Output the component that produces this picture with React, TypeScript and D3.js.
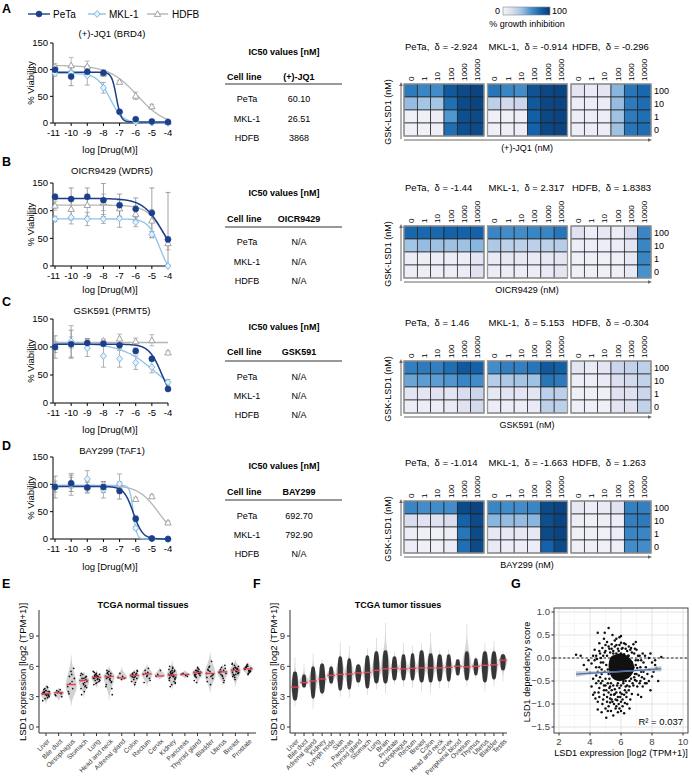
import React from "react";
import * as d3 from "d3";

const FONT = "'Liberation Sans', Arial, Helvetica, sans-serif";

// ---------------- Dose-response data ----------------
const doses = [-11, -10, -9, -8, -7, -6, -5, -4];
const cellLines = ["PeTa", "MKL-1", "HDFB"];
const drugTitles = ["(+)-JQ1 (BRD4)", "OICR9429 (WDR5)", "GSK591 (PRMT5)", "BAY299 (TAF1)"];
const drugNames = ["(+)-JQ1", "OICR9429", "GSK591", "BAY299"];
const panelLetters = ["A", "B", "C", "D"];
const yTicksViab = [0, 50, 100, 150];

const viabPeta = [
  [100, 87, 96, 94, 21, 7, 3, 2],
  [125, 121, 125, 119, 110, 103, 96, 48],
  [100, 105, 107, 106, 103, 93, 79, 25],
  [95, 102, 94, 95, 88, 37, 1, 0],
];
const errPeta = [
  [5, 17, 8, 5, 3, 3, 2, 2],
  [5, 20, 16, 30, 20, 20, 45, 85],
  [20, 25, 8, 5, 5, 5, 3, 3],
  [20, 15, 10, 10, 15, 5, 2, 1],
];
const viabMkl = [
  [93, 94, 89, 66, 20, 2, 1, 0],
  [85, 88, 85, 85, 86, 79, 57, 0],
  [100, 110, 98, 84, 79, 72, 64, 37],
  [96, 100, 110, 90, 101, 20, 1, 0],
];
const errMkl = [
  [5, 5, 18, 10, 3, 2, 1, 1],
  [5, 12, 12, 8, 16, 8, 5, 2],
  [10, 28, 15, 20, 15, 12, 10, 5],
  [10, 20, 15, 15, 18, 3, 2, 1],
];
const viabHdfb = [
  [106, 108, 106, 93, 77, 51, 31, 2],
  [109, 103, 110, 115, 104, 94, 82, 41],
  [100, 108, 110, 111, 115, 110, 112, 90],
  [97, 103, 96, 100, 100, 73, 78, 30],
];
const errHdfb = [
  [5, 15, 10, 6, 3, 7, 4, 2],
  [8, 20, 20, 15, 15, 15, 20, 12],
  [5, 10, 5, 3, 8, 6, 10, 3],
  [5, 10, 10, 5, 5, 3, 3, 3],
];
// 4PL fit parameters [top, bottom, logIC50, hill]
const fitPeta = [[95, 2, -7.2, 3], [122, 0, -4.3, 0.7], [105, 0, -4.4, 1.1], [96, 0, -6.15, 1.5]];
const fitMkl = [[93, 0, -7.6, 1.1], [85, -20, -4.5, 1.2], [107, 0, -4.7, 0.4], [98, 0, -6.15, 4]];
const fitHdfb = [[108, -5, -5.9, 0.5], [110, 0, -4.2, 0.8], [108, 108, -4, 1], [98, 0, -4.6, 0.7]];

// IC50 tables
const ic50Peta = ["60.10", "N/A", "N/A", "692.70"];
const ic50Mkl = ["26.51", "N/A", "N/A", "792.90"];
const ic50Hdfb = ["3868", "N/A", "N/A", "N/A"];

// ---------------- Synergy heatmaps ----------------
const drugConc = ["0", "1", "10", "100", "1000", "10000"];
const lsdConc = ["100", "10", "1", "0"];
const deltaPeta = ["-2.924", "-1.44", "1.46", "-1.014"];
const deltaMkl = ["-0.914", "2.317", "5.153", "-1.663"];
const deltaHdfb = ["-0.296", "1.8383", "-0.304", "1.263"];
const hmPeta = [
  [[70, 65, 62, 85, 92, 95], [42, 38, 38, 75, 92, 95], [3, 3, 5, 58, 90, 92], [2, 2, 4, 75, 90, 92]],
  [[78, 78, 78, 80, 80, 80], [38, 42, 40, 40, 40, 45], [5, 5, 5, 5, 5, 12], [4, 4, 4, 4, 6, 15]],
  [[68, 70, 68, 75, 85, 80], [52, 55, 55, 58, 65, 62], [12, 12, 14, 12, 20, 25], [5, 5, 5, 8, 15, 22]],
  [[65, 62, 62, 62, 92, 95], [20, 15, 15, 20, 80, 92], [5, 3, 3, 5, 72, 92], [5, 3, 3, 5, 75, 92]],
];
const hmMkl = [
  [[72, 65, 62, 88, 93, 95], [30, 22, 25, 85, 93, 95], [3, 3, 5, 82, 93, 95], [3, 3, 5, 80, 93, 95]],
  [[65, 62, 62, 65, 65, 72], [35, 30, 30, 30, 30, 32], [8, 10, 10, 8, 10, 12], [5, 5, 5, 5, 8, 12]],
  [[62, 68, 68, 72, 85, 82], [32, 35, 38, 40, 72, 70], [10, 12, 12, 12, 30, 30], [5, 5, 5, 8, 30, 30]],
  [[65, 62, 62, 65, 92, 95], [45, 42, 42, 45, 90, 95], [10, 10, 10, 10, 92, 95], [8, 5, 5, 5, 80, 92]],
];
const hmHdfb = [
  [[12, 8, 12, 45, 72, 78], [5, 5, 6, 42, 70, 76], [5, 5, 5, 40, 70, 75], [5, 5, 5, 40, 72, 76]],
  [[15, 5, 10, 5, 20, 65], [5, 5, 5, 5, 12, 65], [3, 3, 3, 3, 10, 65], [3, 3, 3, 3, 8, 60]],
  [[12, 8, 12, 25, 28, 30], [5, 5, 8, 18, 22, 28], [3, 3, 3, 15, 15, 25], [3, 3, 3, 12, 15, 28]],
  [[10, 5, 8, 15, 68, 68], [5, 3, 5, 5, 68, 70], [3, 3, 3, 5, 65, 65], [3, 3, 3, 3, 62, 62]],
];

// ---------------- TCGA normal (E) ----------------
const catsE = ["Liver", "Bile duct", "Oesophagus", "Stomach", "Lung", "Head and neck", "Adrenal gland", "Colon", "Rectum", "Cervix", "Kidney", "Pancreas", "Thyroid gland", "Bladder", "Uterus", "Breast", "Prostate"];
const medE = [3.3, 3.4, 4.2, 4.6, 4.9, 5.0, 4.85, 5.1, 5.25, 5.05, 5.15, 5.2, 5.4, 5.3, 5.45, 5.6, 5.75];
const peakE = [3.3, 3.4, 4.0, 4.6, 4.9, 5.0, 4.85, 5.1, 5.25, 5.1, 5.15, 5.2, 5.4, 5.2, 5.45, 5.6, 5.75];
const loE = [2.3, 2.6, 2.1, 2.9, 3.9, 2.7, 4.6, 3.9, 4.0, 4.7, 3.7, 4.8, 4.2, 3.4, 4.1, 4.0, 5.0];
const hiE = [4.2, 3.9, 7.1, 5.5, 5.6, 6.0, 5.9, 5.7, 6.2, 5.9, 6.5, 5.6, 6.0, 7.4, 6.2, 6.7, 6.4];
const dotsE = [
  [3.3, 3.1, 3.5, 3.2, 3.6, 3.4, 2.9, 3.8, 3.0, 3.3, 3.7, 3.5, 3.2, 2.6, 4.0, 3.4, 3.1, 3.6, 3.3, 3.9, 2.8, 3.5, 3.2, 3.4],
  [3.2, 3.4, 3.6, 3.3, 3.5, 3.1, 3.7, 3.4, 3.0],
  [4.0, 4.5, 5.0, 5.8, 5.5, 3.5, 3.8, 4.3, 4.8, 5.2, 3.3],
  [4.6, 4.4, 4.8, 5.0, 4.2, 3.8, 4.9, 5.2, 4.5, 3.5, 3.2, 4.7, 4.3, 5.1, 4.0, 4.6, 3.9, 4.8, 5.3, 4.1],
  [4.9, 4.7, 5.1, 4.5, 5.3, 4.8, 5.0, 4.6, 5.2, 4.4, 5.4, 4.9, 4.3, 5.5, 4.8, 5.0, 4.7, 5.1, 4.2, 4.9, 5.2, 4.6, 5.0, 4.8],
  [5.0, 4.8, 5.3, 4.5, 5.5, 4.2, 5.1, 4.9, 3.2, 4.7, 5.6, 4.4, 5.2, 4.0, 4.6, 5.4, 3.8, 5.0, 4.8, 5.3],
  [4.9, 5.0, 5.3, 4.8, 4.7],
  [5.1, 5.0, 5.3, 4.8, 5.4, 4.5, 5.2, 4.9, 5.5, 4.2, 5.0, 5.3, 4.7, 5.1, 4.4, 5.2, 5.6, 4.9],
  [5.2, 5.4, 5.6, 4.8, 5.0, 4.4, 5.8, 5.3, 4.6, 5.1],
  [5.0, 5.6, 5.2],
  [5.2, 5.0, 5.4, 4.8, 5.6, 4.6, 5.1, 5.3, 4.4, 5.8, 4.9, 5.5, 4.2, 5.7, 5.0, 5.2, 4.7, 5.3, 6.0, 4.5, 5.1, 4.9, 5.4, 4.0, 5.6, 5.2, 4.8, 5.0, 5.5, 4.3, 5.9, 5.1],
  [5.2, 5.1, 5.3, 5.0],
  [5.4, 5.3, 5.6, 5.1, 5.5, 5.2, 5.7, 4.9, 5.4, 5.8, 5.0, 5.3, 5.6, 4.6, 5.5, 5.2, 5.4, 5.9, 5.1, 5.3, 4.4],
  [5.3, 5.0, 5.6, 4.8, 5.5, 4.5, 6.5, 5.9, 5.2, 4.2, 5.7, 5.1, 6.0, 4.9],
  [5.4, 5.6, 5.2, 5.8, 5.0, 5.5, 4.6, 5.9, 5.3, 4.8, 5.7, 6.1, 5.1, 5.4, 4.4, 5.5],
  [5.6, 5.5, 5.8, 5.3, 5.9, 5.4, 5.7, 5.1, 6.0, 5.2, 5.6, 5.8, 4.9, 6.2, 5.5, 5.7, 5.3, 5.9, 5.0, 5.6, 6.1, 5.4, 5.8, 5.2, 5.7, 4.7, 6.3, 5.5],
  [5.8, 5.6, 5.9, 5.5, 6.0, 5.7, 5.4, 6.1, 5.8, 5.3, 5.9, 5.6, 6.2, 5.7, 5.5, 6.0, 5.8, 5.2],
];

// ---------------- TCGA tumor (F) ----------------
const catsF = ["Liver", "Bile duct", "Adrenal gland", "Kidney", "Lymph node", "Skin", "Pancreas", "Thyroid gland", "Stomach", "Lung", "Brain", "Prostate", "Oesophagus", "Rectum", "Breast", "Colon", "Head and neck", "Cervix", "Peripheral blood", "Ovarium", "Thymus", "Uterus", "Bladder", "Testis"];
const medF = [3.95, 4.4, 4.55, 4.75, 5.1, 5.2, 5.25, 5.35, 5.4, 5.6, 5.75, 5.8, 5.75, 5.8, 5.85, 5.85, 5.85, 5.9, 6.0, 5.95, 6.0, 6.1, 6.15, 6.6];
const loF = [2.0, 3.8, 1.8, 3.0, 4.0, 3.0, 2.9, 4.0, 3.2, 3.7, 3.3, 4.2, 4.0, 3.8, 3.5, 3.3, 3.8, 3.8, 5.0, 4.0, 4.8, 3.5, 4.0, 4.5];
const hiF = [6.9, 6.2, 7.3, 6.6, 6.3, 8.4, 8.0, 6.3, 7.8, 8.8, 10.3, 7.4, 8.3, 8.0, 8.3, 9.3, 7.6, 7.7, 6.6, 10.2, 7.0, 8.3, 8.5, 7.5];
const coreLoF = [2.6, 3.9, 2.8, 3.3, 4.3, 3.6, 3.7, 4.4, 3.8, 4.3, 4.3, 4.6, 4.6, 4.6, 4.4, 4.4, 4.5, 4.5, 5.1, 4.6, 5.1, 4.4, 4.7, 5.6];
const coreHiF = [5.5, 5.2, 6.0, 6.3, 6.0, 7.0, 6.8, 6.2, 7.1, 7.5, 7.6, 7.0, 7.2, 7.3, 7.6, 7.3, 7.2, 7.2, 6.7, 7.5, 6.8, 7.5, 7.5, 7.2];
const densF = [1, 0.5, 0.7, 1, 0.6, 0.8, 0.7, 0.9, 0.8, 1, 1, 0.8, 0.7, 0.6, 1, 0.9, 0.9, 0.7, 0.6, 0.8, 0.5, 1, 0.9, 0.8];
const exprTicks = [0, 3, 6, 9];

// ---------------- DepMap scatter (G) ----------------
const depPoints = [
  [3.1, 0.07], [3.4, 0.05], [3.9, -0.05], [4.1, -0.12], [4.0, -0.32], [4.3, 0.18], [4.2, -0.45], [4.4, -0.38], [4.1, -0.62], [4.3, -0.75],
  [4.5, 0.55], [4.6, 0.15], [4.6, -0.85], [4.7, -0.55], [4.8, -1.0], [4.5, -1.12], [4.9, 0.42], [5.0, 0.28], [5.0, -1.1], [5.1, -0.95],
  [5.2, 0.65], [5.2, -0.75], [5.3, -0.97], [5.4, -0.9], [5.5, -1.25], [5.5, 0.1], [5.6, 0.38], [5.7, -1.05], [5.8, -0.85], [5.9, 0.45],
  [6.0, -0.95], [6.1, -1.05], [6.2, 0.32], [6.2, -0.8], [6.5, 0.25], [6.5, -0.7], [6.6, -0.9], [6.8, 0.3], [6.8, -0.6], [7.0, 0.18],
  [7.1, -0.8], [7.2, -0.55], [7.5, -0.45], [7.6, -0.2], [7.8, 0.0], [7.9, -0.7], [8.0, -0.1], [8.1, -0.3], [8.6, 0.02], [7.4, 0.1],
  [7.3, -0.3], [7.7, -0.35], [8.3, -0.22], [4.4, -0.2], [4.7, 0.0], [4.8, 0.22], [5.1, 0.35], [5.4, 0.3], [5.7, 0.28], [6.0, 0.33],
  [6.3, 0.2], [6.7, 0.12], [7.1, -0.05], [4.6, -0.65], [4.9, -0.8], [5.3, -0.62], [5.6, -0.78], [6.3, -0.62], [6.9, -0.48], [7.4, -0.62],
  [5.0, -0.45], [6.4, -1.0], [5.9, -1.1], [5.2, -1.05], [6.7, -0.78], [7.0, -0.35], [4.5, -0.3], [4.3, -0.05], [5.45, 0.5], [6.05, 0.2],
  [7.2, 0.05], [8.4, -0.5], [3.8, -0.25], [4.9, -0.6], [5.75, -0.6], [6.15, -0.5], [4.65, -0.42], [4.75, -0.25], [4.85, -0.1], [4.95, 0.12],
  [6.45, 0.05], [6.75, -0.2], [6.95, -0.15], [7.25, -0.2], [7.45, -0.1], [5.05, -0.7], [5.35, -0.8], [5.65, -0.9], [5.95, -0.75], [6.35, -0.85],
  [6.55, -0.5], [7.05, -0.62], [7.35, -0.42], [4.55, -0.5], [4.45, -0.02], [5.25, 0.2], [5.85, 0.15], [6.65, 0.22], [7.65, -0.55], [7.85, -0.25],
  [5.55, -1.0], [5.15, -1.15], [4.85, -0.9], [6.25, -0.98], [5.8, -1.18], [7.55, 0.05], [8.2, -0.05], [3.6, -0.15], [4.2, 0.05], [6.9, 0.2],
  [4.7, -0.1], [4.75, -0.35], [4.8, -0.5], [4.85, 0.05], [4.9, -0.7], [4.95, -0.3], [5.0, 0.15], [5.0, -0.6], [5.05, -0.15], [5.1, -0.85],
  [5.1, 0.05], [5.15, -0.55], [5.2, -0.35], [5.2, 0.25], [5.25, -0.65], [5.3, 0.12], [5.3, -0.88], [5.35, -0.55], [5.4, 0.2], [5.4, -0.7],
  [5.45, -0.95], [5.5, 0.15], [5.5, -0.6], [5.55, -0.8], [5.6, 0.25], [5.6, -0.68], [5.65, -1.1], [5.7, 0.1], [5.7, -0.75], [5.75, -0.92],
  [5.8, 0.2], [5.8, -0.55], [5.85, -1.0], [5.9, 0.28], [5.9, -0.65], [5.95, -0.85], [6.0, 0.1], [6.0, -0.6], [6.05, -0.78], [6.1, 0.22],
  [6.1, -0.9], [6.15, -0.55], [6.2, 0.08], [6.25, -0.7], [6.3, 0.3], [6.3, -0.5], [6.35, -0.75], [6.4, 0.15], [6.4, -0.6], [6.45, -0.4],
  [6.5, 0.05], [6.55, -0.62], [6.6, -0.3], [6.6, 0.18], [6.65, -0.45], [6.7, -0.1], [6.75, -0.55], [6.8, -0.2], [6.85, 0.1], [6.9, -0.35],
  [6.95, -0.05], [7.0, -0.5], [7.05, -0.22], [7.1, 0.05], [7.15, -0.38], [7.25, -0.5], [7.3, -0.05], [7.45, -0.3], [7.55, -0.55], [4.6, -0.2],
  [4.55, -0.75], [4.65, 0.1], [4.4, -0.55], [4.35, -0.88], [4.5, -0.95], [4.75, -1.18], [6.2, -1.2], [5.35, -1.15], [6.55, -1.1], [7.3, -0.85],
  [7.8, -0.5], [8.0, -0.4], [8.2, -0.15], [7.9, 0.1], [6.95, 0.35], [6.0, 0.48], [4.95, 0.55], [5.7, 0.42], [4.6, 0.32], [4.4, 0.05],
  [5.05, -1.3], [6.0, -1.15], [4.2, -0.8], [5.15, -0.25], [5.25, -0.45], [5.55, 0.0], [6.25, -0.1], [6.85, -0.42], [5.45, -0.3], [6.55, -0.25],
];
const depCore = [
  [5.2, -0.2], [5.3, 0.0], [5.6, 0.07], [6.0, 0.1], [6.4, 0.05], [6.75, -0.08], [6.85, -0.25], [6.6, -0.4], [6.2, -0.48], [5.8, -0.5], [5.4, -0.42],
];
const regX = [3.1, 8.6];
const regY = [-0.35, -0.235];
const bandX = [3.1, 4.5, 6.0, 7.5, 8.6];
const bandLo = [-0.41, -0.345, -0.31, -0.29, -0.295];
const bandHi = [-0.29, -0.29, -0.275, -0.235, -0.175];
const depXTicks = [2, 4, 6, 8, 10];
const depYTicks = [1.0, 0.5, 0.0, -0.5, -1.0, -1.5];

// ---------------- layout ----------------
const rowZero = [123, 266, 403, 539];
const rowTop150 = [43, 183, 319, 457];
const rowTitleY = [34, 171, 311, 451];
const rowLetterY = [9, 162, 302, 446];
const rowXLabY = [150, 290, 430, 567];
const tabTitleY = [52, 193, 327, 466];
const tabHeadY = [77, 219, 352, 492];
const tabLineY = [84, 227, 361, 500];
const tabRowsY = [[99, 119, 138], [242, 262, 281], [377, 396, 415], [516, 535, 554]];
const hmTitleY = [47, 188, 323, 463];
const hmTop = [84, 226, 361, 501];
const hmLeft = [404, 487.5, 571];
const HM_W = 80;
const HM_H = 13;

const colPeta = "#1c3f8c";
const colMkl = "#8cc3ea";
const colHdfb = "#b5b5b5";

const heatColor = d3
  .scaleLinear<string>()
  .domain([0, 20, 40, 60, 80, 100])
  .range(["#f3f2f9", "#d9ddef", "#9fc2e3", "#4791cd", "#1463aa", "#083a72"])
  .clamp(true);

const xDose = d3.scaleLinear().domain([-11, -4]).range([55, 168]);

function fourPL(p: number[], x: number) {
  const [top, bottom, c, h] = p;
  return bottom + (top - bottom) / (1 + Math.pow(10, (x - c) * h));
}

function Marker({ kind, x, y }: { kind: number; x: number; y: number }) {
  if (kind === 0) return <circle cx={x} cy={y} r={3} fill={colPeta} stroke={colPeta} strokeWidth={0.6} />;
  if (kind === 1)
    return (
      <path
        d={`M${x},${y - 3.4}L${x + 3},${y}L${x},${y + 3.4}L${x - 3},${y}Z`}
        fill="#e6f2fb"
        stroke="#74b0de"
        strokeWidth={0.9}
      />
    );
  return (
    <path
      d={`M${x},${y - 3.3}L${x + 3.2},${y + 2.4}L${x - 3.2},${y + 2.4}Z`}
      fill="#ffffff"
      stroke="#9a9a9a"
      strokeWidth={0.9}
    />
  );
}

function DoseRow({ r }: { r: number }) {
  const y = d3.scaleLinear().domain([0, 150]).range([rowZero[r], rowTop150[r]]);
  const series = [
    { v: viabHdfb[r], e: errHdfb[r], f: fitHdfb[r], c: colHdfb, k: 2, ec: "#a9a9a9" },
    { v: viabMkl[r], e: errMkl[r], f: fitMkl[r], c: colMkl, k: 1, ec: "#9a9a9a" },
    { v: viabPeta[r], e: errPeta[r], f: fitPeta[r], c: colPeta, k: 0, ec: "#8a8a8a" },
  ];
  const grid = d3.range(-11, -3.999, 0.02);
  return (
    <g>
      <text x={2} y={rowLetterY[r]} dy="0.35em" fontSize={12.5} fontWeight="bold">
        {panelLetters[r]}
      </text>
      <text x={112} y={rowTitleY[r]} dy="0.35em" fontSize={9.5} textAnchor="middle">
        {drugTitles[r]}
      </text>
      <line x1={53} x2={53} y1={y(0)} y2={y(150)} stroke="#000" strokeWidth={1} />
      <line x1={53} x2={168} y1={y(0)} y2={y(0)} stroke="#000" strokeWidth={1} />
      {yTicksViab.map((t) => (
        <g key={t}>
          <line x1={50} x2={53} y1={y(t)} y2={y(t)} stroke="#000" />
          <text x={48} y={y(t)} dy="0.35em" fontSize={9.5} textAnchor="end">
            {t}
          </text>
        </g>
      ))}
      {doses.map((d) => (
        <g key={d}>
          <line x1={xDose(d)} x2={xDose(d)} y1={y(0)} y2={y(0) + 3} stroke="#000" />
          <text x={xDose(d) - (d === -11 ? 1.5 : 0)} y={y(0) + 10} dy="0.35em" fontSize={9.5} textAnchor="middle">
            {d}
          </text>
        </g>
      ))}
      <text
        transform={`translate(${31},${(y(0) + y(150)) / 2}) rotate(-90)`}
        fontSize={9.5}
        textAnchor="middle"
        dy="0.35em"
      >
        % Viability
      </text>
      <text x={110} y={rowXLabY[r]} dy="0.35em" fontSize={9.5} textAnchor="middle">
        log [Drug(M)]
      </text>
      {series.map((s, si) => (
        <g key={"e" + si}>
          {doses.map((d, i) => {
            const lo = Math.max(0, s.v[i] - s.e[i]);
            const hi = Math.min(150, s.v[i] + s.e[i]);
            const xx = xDose(d);
            return (
              <g key={i} stroke={s.ec} strokeWidth={0.8}>
                <line x1={xx} x2={xx} y1={y(lo)} y2={y(hi)} />
                <line x1={xx - 2.5} x2={xx + 2.5} y1={y(hi)} y2={y(hi)} />
                {s.v[i] - s.e[i] > 0 && <line x1={xx - 2.5} x2={xx + 2.5} y1={y(lo)} y2={y(lo)} />}
              </g>
            );
          })}
        </g>
      ))}
      {series.map((s, si) => {
        const path = d3
          .line<number>()
          .x((d) => xDose(d))
          .y((d) => y(Math.max(-1, Math.min(150, fourPL(s.f, d)))))(grid);
        return <path key={"c" + si} d={path || ""} fill="none" stroke={s.c} strokeWidth={s.k === 0 ? 1.5 : 1.3} />;
      })}
      {series.map((s, si) => (
        <g key={"m" + si}>
          {doses.map((d, i) => (
            <Marker key={i} kind={s.k} x={xDose(d)} y={y(Math.max(0, s.v[i]))} />
          ))}
        </g>
      ))}
    </g>
  );
}

function Table({ r }: { r: number }) {
  const vals = [ic50Peta[r], ic50Mkl[r], ic50Hdfb[r]];
  return (
    <g fontSize={9}>
      <text x={284} y={tabTitleY[r]} dy="0.35em" textAnchor="middle" fontWeight="bold">
        IC50 values [nM]
      </text>
      <text x={227} y={tabHeadY[r]} dy="0.35em" fontWeight="bold">
        Cell line
      </text>
      <text x={299} y={tabHeadY[r]} dy="0.35em" fontWeight="bold" textAnchor="middle">
        {drugNames[r]}
      </text>
      <line x1={225} x2={342} y1={tabLineY[r]} y2={tabLineY[r]} stroke="#777" strokeWidth={1.3} />
      {cellLines.map((c, i) => (
        <g key={c}>
          <text x={247} y={tabRowsY[r][i]} dy="0.35em" textAnchor="middle">
            {c}
          </text>
          <text x={299} y={tabRowsY[r][i]} dy="0.35em" textAnchor="middle">
            {vals[i]}
          </text>
        </g>
      ))}
    </g>
  );
}

function HeatRow({ r }: { r: number }) {
  const data = [hmPeta[r], hmMkl[r], hmHdfb[r]];
  const deltas = [deltaPeta[r], deltaMkl[r], deltaHdfb[r]];
  const top = hmTop[r];
  const cw = HM_W / drugConc.length;
  const bottom = top + HM_H * lsdConc.length;
  const arrowY = bottom + 4;
  return (
    <g>
      {cellLines.map((cl, k) => {
        const left = hmLeft[k];
        return (
          <g key={cl}>
            <text x={left + 1} y={hmTitleY[r]} dy="0.35em" fontSize={9.5} style={{ whiteSpace: "pre" }}>
              {`${cl},  δ = ${deltas[k]}`}
            </text>
            {drugConc.map((c, j) => (
              <text
                key={c}
                transform={`translate(${left + cw * (j + 0.5) + 3},${top - 3}) rotate(-90)`}
                fontSize={8}
              >
                {c}
              </text>
            ))}
            {data[k].map((row, i) =>
              row.map((v, j) => (
                <rect
                  key={i + "-" + j}
                  x={left + j * cw}
                  y={top + i * HM_H}
                  width={cw}
                  height={HM_H}
                  fill={heatColor(v)}
                  stroke="#222"
                  strokeWidth={0.7}
                />
              ))
            )}
            <rect x={left} y={top} width={HM_W} height={HM_H * 4} fill="none" stroke="#9a9a9a" strokeWidth={1.3} />
          </g>
        );
      })}
      {lsdConc.map((c, i) => (
        <text key={c} x={654} y={top + HM_H * (i + 0.5)} dy="0.35em" fontSize={9}>
          {c}
        </text>
      ))}
      <line x1={401} x2={401} y1={bottom + 3} y2={top + 1} stroke="#666" strokeWidth={1} />
      <path d={`M401,${top - 2}L399.2,${top + 2}L402.8,${top + 2}Z`} fill="#666" />
      <text
        transform={`translate(${390.5},${(top + bottom) / 2 + 2}) rotate(-90)`}
        fontSize={9}
        textAnchor="middle"
      >
        GSK-LSD1 (nM)
      </text>
      <line x1={404} x2={649} y1={arrowY} y2={arrowY} stroke="#666" strokeWidth={1} />
      <path d={`M652,${arrowY}L648,${arrowY - 1.8}L648,${arrowY + 1.8}Z`} fill="#666" />
      <text x={527} y={arrowY + 7.5} dy="0.35em" fontSize={9} textAnchor="middle">
        {drugNames[r] + " (nM)"}
      </text>
    </g>
  );
}

function ColorBar() {
  const stops = d3.range(0, 101, 10);
  return (
    <g>
      <defs>
        <linearGradient id="hmgrad" x1="0" x2="1" y1="0" y2="0">
          {stops.map((s) => (
            <stop key={s} offset={`${s}%`} stopColor={heatColor(s)} />
          ))}
        </linearGradient>
      </defs>
      <rect x={503} y={7} width={47} height={8} fill="url(#hmgrad)" stroke="#888" strokeWidth={0.6} />
      <text x={500} y={11} dy="0.35em" fontSize={9} textAnchor="end">
        0
      </text>
      <text x={552} y={11} dy="0.35em" fontSize={9}>
        100
      </text>
      <text x={527} y={24} dy="0.35em" fontSize={9} textAnchor="middle">
        % growth inhibition
      </text>
    </g>
  );
}

function Legend() {
  const items = [
    { x1: 28, x2: 50, tx: 53, k: 0, c: colPeta },
    { x1: 88, x2: 106, tx: 109, k: 1, c: colMkl },
    { x1: 147, x2: 168, tx: 172, k: 2, c: colHdfb },
  ];
  return (
    <g>
      {items.map((it, i) => (
        <g key={i}>
          <line x1={it.x1} x2={it.x2} y1={14} y2={14} stroke={it.c} strokeWidth={1.4} />
          <Marker kind={it.k} x={(it.x1 + it.x2) / 2} y={14} />
          <text x={it.tx} y={14} dy="0.35em" fontSize={10}>
            {cellLines[i]}
          </text>
        </g>
      ))}
    </g>
  );
}

const yExpr = d3.scaleLinear().domain([0, 9]).range([727, 636]);

function smooth(t: number) {
  const c = Math.max(0, Math.min(1, t));
  return c * c * (3 - 2 * c);
}

function violinD(cx: number, lo: number, peak: number, hi: number, w: number, pw: number, minW: number) {
  const pts: [number, number][] = [];
  const n = 48;
  for (let i = 0; i <= n; i++) {
    const v = lo + ((hi - lo) * i) / n;
    const t = v < peak ? (v - lo) / (peak - lo) : (hi - v) / (hi - peak);
    pts.push([v, minW + w * Math.pow(smooth(t), pw)]);
  }
  return (
    d3
      .area<[number, number]>()
      .x0((d) => cx - d[1])
      .x1((d) => cx + d[1])
      .y((d) => yExpr(d[0]))
      .curve(d3.curveBasis)(pts) || ""
  );
}

function ExprAxes({ x0, x1, cats, xs, label, title, titleX }: any) {
  return (
    <g>
      <line x1={x0} x2={x0} y1={610} y2={733} stroke="#333" strokeWidth={1} />
      <line x1={x0} x2={x1} y1={733} y2={733} stroke="#333" strokeWidth={1} />
      {exprTicks.map((t) => (
        <g key={t}>
          <line x1={x0 - 3} x2={x0} y1={yExpr(t)} y2={yExpr(t)} stroke="#333" />
          <text x={x0 - 5} y={yExpr(t)} dy="0.35em" fontSize={9.5} textAnchor="end" fill="#333">
            {t}
          </text>
        </g>
      ))}
      {cats.map((c: string, i: number) => (
        <g key={c}>
          <line x1={xs(i)} x2={xs(i)} y1={733} y2={736} stroke="#333" />
          <text
            transform={`translate(${xs(i) + 2.5},${740}) rotate(-45)`}
            fontSize={6.6}
            textAnchor="end"
            dy="0.35em"
            fill="#333"
          >
            {c}
          </text>
        </g>
      ))}
      <text
        transform={`translate(${x0 - 16.5},${672}) rotate(-90)`}
        fontSize={9.5}
        textAnchor="middle"
        dy="0.35em"
      >
        {label}
      </text>
      <text x={titleX} y={605} dy="0.35em" fontSize={9} fontWeight="bold" textAnchor="middle">
        {title}
      </text>
    </g>
  );
}

function PanelE() {
  const xs = d3.scaleLinear().domain([0, catsE.length - 1]).range([46, 248]);
  return (
    <g>
      <text x={2} y={584} dy="0.35em" fontSize={12.5} fontWeight="bold">
        E
      </text>
      {catsE.map((c, i) => (
        <path key={c} d={violinD(xs(i), loE[i], peakE[i], hiE[i], 5.2, 1.2, 0.3)} fill="#d2d2d2" />
      ))}
      {dotsE.map((arr, i) =>
        arr.map((v, j) => (
          <circle key={i + "-" + j} cx={xs(i) + (((j * 0.618034) % 1) - 0.5) * 7} cy={yExpr(v)} r={0.85} fill="#111" />
        ))
      )}
      {catsE.map((c, i) => (
        <line key={c} x1={xs(i) - 4.5} x2={xs(i) + 4.5} y1={yExpr(medE[i])} y2={yExpr(medE[i])} stroke="#e3414e" strokeWidth={1.4} />
      ))}
      <ExprAxes x0={39} x1={256} cats={catsE} xs={xs} label="LSD1 expression [log2 (TPM+1)]" title="TCGA normal tissues" titleX={143} />
    </g>
  );
}

function PanelF() {
  const xs = d3.scaleLinear().domain([0, catsF.length - 1]).range([295, 503]);
  return (
    <g>
      <text x={253} y={584} dy="0.35em" fontSize={12.5} fontWeight="bold">
        F
      </text>
      {catsF.map((c, i) => (
        <path key={c} d={violinD(xs(i), loF[i], medF[i], hiF[i], 4.4, 2.2, 0.35)} fill="#d6d6d6" />
      ))}
      {catsF.map((c, i) => (
        <path
          key={"core" + c}
          d={violinD(xs(i), coreLoF[i], medF[i], coreHiF[i], 1.2 + 1.5 * densF[i], 0.15, 0.3)}
          fill="#1a1a1a"
          opacity={0.85}
        />
      ))}
      {catsF.map((c, i) => (
        <line key={"m" + c} x1={xs(i) - 3.8} x2={xs(i) + 3.8} y1={yExpr(medF[i])} y2={yExpr(medF[i])} stroke="#e3414e" strokeWidth={1.4} />
      ))}
      <ExprAxes x0={290} x1={507} cats={catsF} xs={xs} label="LSD1 expression [log2 (TPM+1)]" title="TCGA tumor tissues" titleX={398} />
    </g>
  );
}

function PanelG() {
  const x = d3.scaleLinear().domain([2, 10]).range([559, 683]);
  const y = d3.scaleLinear().domain([-1.5, 1.0]).range([727, 612]);
  const L = 554, R = 688, T = 608, B = 733;
  const minorX = [3, 5, 7, 9];
  const minorY = [0.75, 0.25, -0.25, -0.75, -1.25];
  const band =
    d3
      .area<number>()
      .x((d) => x(d))
      .y0((d, i) => y(bandLo[i]))
      .y1((d, i) => y(bandHi[i]))
      .curve(d3.curveMonotoneX)(bandX) || "";
  const core =
    d3
      .line<number[]>()
      .x((d) => x(d[0]))
      .y((d) => y(d[1]))
      .curve(d3.curveCardinalClosed)(depCore) || "";
  return (
    <g>
      <text x={511} y={584} dy="0.35em" fontSize={12.5} fontWeight="bold">
        G
      </text>
      <rect x={L} y={T} width={R - L} height={B - T} fill="#fff" />
      {minorX.map((t) => (
        <line key={"mx" + t} x1={x(t)} x2={x(t)} y1={T} y2={B} stroke="#f2f2f2" strokeWidth={0.6} />
      ))}
      {minorY.map((t) => (
        <line key={"my" + t} x1={L} x2={R} y1={y(t)} y2={y(t)} stroke="#f2f2f2" strokeWidth={0.6} />
      ))}
      {depXTicks.map((t) => (
        <line key={"gx" + t} x1={x(t)} x2={x(t)} y1={T} y2={B} stroke="#e3e3e3" strokeWidth={1} />
      ))}
      {depYTicks.map((t) => (
        <line key={"gy" + t} x1={L} x2={R} y1={y(t)} y2={y(t)} stroke="#e3e3e3" strokeWidth={1} />
      ))}
      <path d={core} fill="#111" />
      {depPoints.map((p, i) => (
        <circle key={i} cx={x(p[0])} cy={y(p[1])} r={1.25} fill="#111" />
      ))}
      <line x1={L} x2={R} y1={y(0)} y2={y(0)} stroke="#111" strokeWidth={0.9} strokeDasharray="2.5,2" />
      <path d={band} fill="#b8b8b8" opacity={0.75} />
      <line x1={x(regX[0])} x2={x(regX[1])} y1={y(regY[0])} y2={y(regY[1])} stroke="#4a6fbd" strokeWidth={1.3} />
      <rect x={L} y={T} width={R - L} height={B - T} fill="none" stroke="#333" strokeWidth={0.9} />
      {depXTicks.map((t) => (
        <g key={"tx" + t}>
          <line x1={x(t)} x2={x(t)} y1={B} y2={B + 2.5} stroke="#333" />
          <text x={x(t)} y={742} dy="0.35em" fontSize={9.5} textAnchor="middle" fill="#444">
            {t}
          </text>
        </g>
      ))}
      {depYTicks.map((t) => (
        <g key={"ty" + t}>
          <line x1={L - 2.5} x2={L} y1={y(t)} y2={y(t)} stroke="#333" />
          <text x={L - 4} y={y(t)} dy="0.35em" fontSize={9.5} textAnchor="end" fill="#444">
            {d3.format(".1f")(t)}
          </text>
        </g>
      ))}
      <text x={683} y={722} dy="0.35em" fontSize={9.5} textAnchor="end">
        R² = 0.037
      </text>
      <text x={621} y={753} dy="0.35em" fontSize={9.2} textAnchor="middle">
        LSD1 expression [log2 (TPM+1)]
      </text>
      <text transform={`translate(${527},${672}) rotate(-90)`} fontSize={9.2} textAnchor="middle" dy="0.35em">
        LSD1 dependency score
      </text>
    </g>
  );
}

export default function App() {
  return (
    <svg
      width={692}
      height={779}
      viewBox="0 0 692 779"
      style={{ position: "absolute", left: 0, top: 0, background: "#fff" }}
      fontFamily={FONT}
    >
      <rect width={692} height={779} fill="#fff" />
      <Legend />
      <ColorBar />
      {[0, 1, 2, 3].map((r) => (
        <g key={r}>
          <DoseRow r={r} />
          <Table r={r} />
          <HeatRow r={r} />
        </g>
      ))}
      <PanelE />
      <PanelF />
      <PanelG />
    </svg>
  );
}
